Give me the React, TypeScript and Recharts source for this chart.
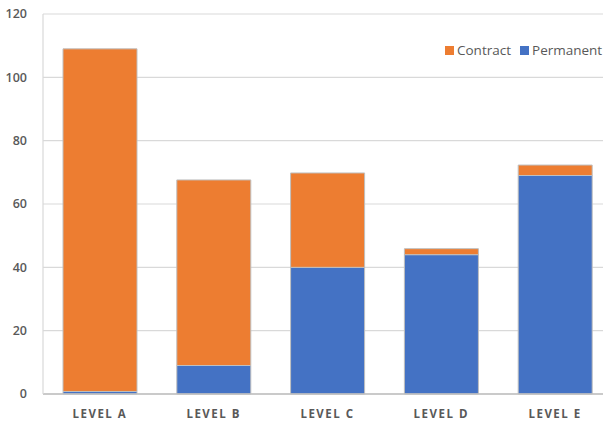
import { BarChart, Bar, XAxis, YAxis, CartesianGrid } from "recharts";

const levels = ["LEVEL A", "LEVEL B", "LEVEL C", "LEVEL D", "LEVEL E"];
const permanent = [0.8, 9, 40, 44, 69];
const contract = [108.2, 58.6, 29.8, 1.9, 3.3];
const yTicks = [0, 20, 40, 60, 80, 100, 120];

const ORANGE = "#ED7D31";
const BLUE = "#4472C4";
const TEXT = "#595959";
const FONT = "'Open Sans', sans-serif";

const data = levels.map((level, i) => ({
  level,
  permanent: permanent[i],
  contract: contract[i],
}));

// legend drawn as overlay so it does not take space from the plot
const legendItems = [
  { label: "Contract", color: ORANGE },
  { label: "Permanent", color: BLUE },
];

export default function App() {
  return (
    <div style={{ position: "fixed", top: 0, left: 0, width: 603, height: 423, overflow: "hidden", background: "#fff" }}>
      <BarChart
        width={612}
        height={423}
        data={data}
        margin={{ top: 14, right: 0, bottom: 0, left: 0 }}
        barSize={74}
      >
        <CartesianGrid vertical={false} stroke="#d9d9d9" strokeWidth={1.2} />
        <XAxis
          dataKey="level"
          height={29}
          tickLine={false}
          axisLine={{ stroke: "#bfbfbf", strokeWidth: 1.5 }}
          tick={{ fill: TEXT, fontSize: 11.5, fontWeight: 700, fontFamily: FONT, letterSpacing: 1.5 }}
          tickMargin={10}
        />
        <YAxis
          width={43}
          domain={[0, 120]}
          ticks={yTicks}
          tickLine={false}
          axisLine={{ stroke: "#d9d9d9", strokeWidth: 1.2 }}
          tick={{ fill: TEXT, fontSize: 12.5, fontWeight: 600, fontFamily: FONT }}
          tickMargin={10}
        />
        <Bar dataKey="permanent" stackId="a" fill={BLUE} stroke="#bfbfbf" strokeWidth={1} isAnimationActive={false} />
        <Bar dataKey="contract" stackId="a" fill={ORANGE} stroke="#bfbfbf" strokeWidth={1} isAnimationActive={false} />
      </BarChart>
      <div
        style={{
          position: "absolute",
          top: 40,
          left: 445,
          display: "flex",
          gap: 9,
          fontFamily: FONT,
          fontSize: 13.5,
          color: TEXT,
          lineHeight: "20px",
        }}
      >
        {legendItems.map((it) => (
          <span key={it.label} style={{ display: "flex", alignItems: "center", gap: 3 }}>
            <span style={{ width: 9, height: 9, background: it.color, display: "inline-block" }} />
            {it.label}
          </span>
        ))}
      </div>
    </div>
  );
}
